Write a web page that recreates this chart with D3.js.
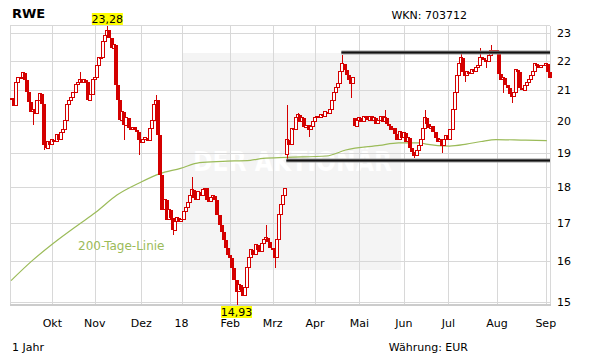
<!DOCTYPE html>
<html>
<head>
<meta charset="utf-8">
<script src="https://cdn.jsdelivr.net/npm/d3@7"></script>
<style>
  body { margin: 0; background: #fff; }
  svg { display: block; font-family: "DejaVu Sans", Verdana, sans-serif; }
</style>
</head>
<body>
<svg width="611" height="364"></svg>
<script>
// RWE daily closes (EUR), one year up to Sep 2018
const closes = [
  20.68, 20.49, 21.28, 21.42, 21.45, 21.59, 21.35, 20.94, 20.62, 20.29,
  20.36, 20.23, 20.68, 20.88, 20.55, 19.26, 19.16, 19.35, 19.26, 19.41,
  19.35, 19.57, 19.41, 19.63, 19.72, 20.03, 20.52, 20.68, 20.75, 20.94,
  21.18, 21.28, 21.35, 21.28, 21.35, 21.28, 20.68, 20.85, 21.35, 21.42,
  21.86, 22.11, 22.14, 22.68, 22.93, 23.11, 22.82, 22.46, 22.57, 21.18,
  20.68, 20.03, 20.29, 19.87, 20.10, 19.78, 19.72, 19.81, 19.72, 19.66,
  19.41, 19.32, 19.41, 19.47, 19.38, 19.78, 20.03, 20.52, 20.68, 19.57,
  18.36, 17.37, 17.65, 17.09, 17.37, 17.15, 16.82, 17.04, 17.15, 17.04,
  17.09, 17.31, 17.43, 17.56, 17.78, 17.93, 17.70, 17.65, 17.87, 17.76,
  17.93, 17.98, 17.65, 17.59, 17.70, 17.76, 17.65, 17.23, 16.96, 16.77,
  16.56, 16.35, 16.17, 16.09, 15.84, 15.54, 15.25, 15.42, 15.30, 15.15,
  15.34, 15.84, 16.09, 16.30, 16.17, 16.43, 16.30, 16.25, 16.46, 16.56,
  16.61, 16.51, 16.35, 16.30, 16.09, 16.56, 17.23, 17.51, 17.78, 17.98,
  19.41, 19.26, 19.78, 19.72, 20.10, 20.20, 19.97, 20.10, 19.81, 19.87,
  19.72, 19.84, 19.97, 20.10, 20.16, 20.10, 20.20, 20.16, 20.29, 20.23,
  20.36, 20.68, 20.94, 21.08, 21.22, 21.63, 21.90, 21.70, 21.52, 21.35,
  21.22, 21.42, 19.84, 20.03, 20.10, 19.97, 20.16, 20.10, 20.03, 20.16,
  20.03, 20.10, 19.91, 20.03, 20.16, 19.97, 20.10, 19.91, 19.84, 19.72,
  19.78, 19.60, 19.41, 19.66, 19.47, 19.63, 19.35, 19.47, 19.16, 19.04,
  18.92, 19.10, 19.23, 19.41, 19.78, 20.10, 19.91, 19.78, 19.84, 19.66,
  19.47, 19.35, 19.41, 19.23, 19.41, 19.54, 19.41, 19.72, 20.36, 20.94,
  21.49, 21.90, 22.11, 21.63, 21.49, 21.63, 21.56, 21.70, 21.63, 21.77,
  21.83, 22.14, 22.11, 22.04, 21.97, 22.21, 22.39, 22.32, 22.39, 22.32,
  21.56, 21.35, 21.42, 21.18, 21.08, 20.88, 20.78, 20.94, 21.70, 21.63,
  21.08, 21.01, 21.15, 21.28, 21.35, 21.49, 21.63, 21.90, 21.83, 21.77,
  21.86, 21.83, 21.90, 21.63, 21.42
];
const firstOpen = 20.75;
// days that did not open at the previous close: [day, open]
const gapOpens = [[130, 18.95], [162, 20.10]];
// visible wicks: [day, high, low]
const wicks = [
  [5, 21.62, null], [10, null, 19.87], [15, null, 19.10], [32, 21.62, null],
  [45, 23.28, null], [53, null, 19.41], [60, null, 18.95], [68, 20.85, null],
  [76, null, 16.70], [85, 18.30, null], [106, null, 14.93], [120, 16.95, null],
  [124, null, 15.84], [130, 20.52, 18.80], [135, 20.26, null], [140, null, 19.50],
  [156, 22.21, null], [160, null, 20.75], [176, 20.36, null], [190, null, 18.86],
  [195, 20.36, null], [203, null, 19.01], [212, 22.29, null], [214, null, 21.28],
  [221, 22.46, null], [224, null, 21.77], [226, 22.57, null], [232, null, 20.91],
  [236, null, 20.59]
];

// 200-Tage-Linie, read at these days
const ma200Days = [0, 10, 20, 31, 40, 50, 61, 70, 80, 89, 100, 113, 119, 130, 149, 158, 174, 183, 193, 196, 207, 215, 222, 229, 243, 253];
const ma200 = [15.52, 16.02, 16.47, 16.93, 17.30, 17.78, 18.14, 18.39, 18.55, 18.72, 18.76, 18.79, 18.85, 18.88, 18.92, 19.10, 19.24, 19.32, 19.32, 19.28, 19.22, 19.28, 19.36, 19.42, 19.40, 19.39];

// horizontal levels drawn in the chart: [start day, price]
const levels = [[156, 22.31], [130, 18.79]];

// first trading day of each month
const monthDays = [20, 40, 62, 81, 104, 124, 144, 165, 186, 207, 230, 253];
const monthLabels = ["Okt", "Nov", "Dez", "18", "Feb", "Mrz", "Apr", "Mai", "Jun", "Jul", "Aug", "Sep"];
const yTicks = [15, 16, 17, 18, 19, 20, 21, 22, 23];

const red = "#d40000";
const gridColor = "#d8d8d8";
const svg = d3.select("svg");
const plotLeft = 10, plotRight = 550, plotTop = 25.5, plotBottom = 305;

// build OHLC from closes
const candles = closes.map(function(c, i) {
  let o = i === 0 ? firstOpen : closes[i - 1];
  const g = gapOpens.find(function(d) { return d[0] === i; });
  if (g) o = g[1];
  let h = Math.max(o, c), l = Math.min(o, c);
  const w = wicks.find(function(d) { return d[0] === i; });
  if (w && w[1] != null) h = Math.max(h, w[1]);
  if (w && w[2] != null) l = Math.min(l, w[2]);
  return { i: i, o: o, c: c, h: h, l: l };
});

const x = d3.scaleLinear().domain([-0.5, closes.length - 0.5]).range([plotLeft, plotRight]);
const y = d3.scaleLog()
  .domain([d3.min(candles, d => d.l), d3.max(candles, d => d.h)])
  .range([plotBottom, plotTop]);

const fmt = function(v) { return d3.format(".2f")(v).replace(".", ","); };

// title and info texts
svg.append("text").attr("x", 12).attr("y", 17.5)
  .attr("font-size", 13).attr("font-weight", "bold").text("RWE");
svg.append("text").attr("x", 467).attr("y", 18.5).attr("text-anchor", "end")
  .attr("font-size", 11).text("WKN: 703712");
svg.append("text").attr("x", 12).attr("y", 351)
  .attr("font-size", 11).text("1 Jahr");
svg.append("text").attr("x", 468).attr("y", 351).attr("text-anchor", "end")
  .attr("font-size", 11).text("Währung: EUR");

// watermark box
svg.append("rect").attr("x", 183).attr("y", 53).attr("width", 218).attr("height", 217)
  .attr("fill", "#f4f4f4");
svg.append("text").attr("x", 193).attr("y", 171)
  .attr("font-size", 27).attr("font-weight", "bold").attr("fill", "#ffffff")
  .attr("textLength", 199).attr("lengthAdjust", "spacingAndGlyphs")
  .text("DER AKTIONÄR");

// grid
const grid = svg.append("g").attr("shape-rendering", "crispEdges").attr("stroke", gridColor);
grid.selectAll("line.h").data(yTicks).join("line")
  .attr("x1", plotLeft).attr("x2", plotRight)
  .attr("y1", d => Math.round(y(d)) + 0.5).attr("y2", d => Math.round(y(d)) + 0.5);
grid.selectAll("line.v").data(monthDays).join("line")
  .attr("y1", plotTop).attr("y2", plotBottom)
  .attr("x1", d => Math.round(x(d - 0.5)) + 0.5).attr("x2", d => Math.round(x(d - 0.5)) + 0.5);
// frame
grid.append("line").attr("x1", plotLeft).attr("x2", plotRight).attr("y1", 25.5).attr("y2", 25.5);
grid.append("line").attr("x1", plotLeft + 0.5).attr("x2", plotLeft + 0.5).attr("y1", plotTop).attr("y2", plotBottom);
grid.append("line").attr("x1", plotRight + 0.5).attr("x2", plotRight + 0.5).attr("y1", plotTop).attr("y2", plotBottom);
svg.append("line").attr("x1", plotLeft).attr("x2", plotRight + 1).attr("y1", 305).attr("y2", 305)
  .attr("stroke", "#cccccc").attr("stroke-width", 2).attr("shape-rendering", "crispEdges");

// axis labels
svg.selectAll("text.month").data(monthDays).join("text")
  .attr("class", "month")
  .attr("x", d => x(d - 0.5)).attr("y", 327)
  .attr("text-anchor", "middle").attr("font-size", 11)
  .text(function(d, i) { return monthLabels[i]; });
svg.selectAll("text.price").data(yTicks).join("text")
  .attr("class", "price")
  .attr("x", 557).attr("y", d => y(d)).attr("dy", "0.36em")
  .attr("font-size", 11)
  .text(d => d);

// 200 day line
const maLine = d3.line()
  .x(function(d, i) { return x(ma200Days[i]); })
  .y(function(d) { return y(d); })
  .curve(d3.curveMonotoneX);
svg.append("path").datum(ma200).attr("d", maLine)
  .attr("fill", "none").attr("stroke", "#9bbb59").attr("stroke-width", 1.2);
svg.append("text").attr("x", 78).attr("y", 249.5)
  .attr("font-size", 12).attr("fill", "#9bbb59").text("200-Tage-Linie");

// candles: hollow = up day, filled = down day
const cg = svg.append("g").attr("shape-rendering", "crispEdges");
const candle = cg.selectAll("g").data(candles).join("g");
function cx(d) { return Math.round(x(d.i)); }
function bodyTop(d) { return y(Math.max(d.o, d.c)); }
function bodyBot(d) { return Math.max(y(Math.min(d.o, d.c)), bodyTop(d) + 1); }
// upper and lower wick, kept outside the body so hollow candles stay white inside
candle.append("line")
  .attr("x1", d => cx(d) + 1.5).attr("x2", d => cx(d) + 1.5)
  .attr("y1", d => y(d.h)).attr("y2", d => bodyTop(d))
  .attr("stroke", red);
candle.append("line")
  .attr("x1", d => cx(d) + 1.5).attr("x2", d => cx(d) + 1.5)
  .attr("y1", d => bodyBot(d)).attr("y2", d => y(d.l))
  .attr("stroke", red);
candle.append("rect")
  .attr("x", function(d) { return d.c >= d.o ? cx(d) - 0.5 : cx(d) - 1; })
  .attr("y", d => bodyTop(d))
  .attr("width", function(d) { return d.c >= d.o ? 3 : 4; })
  .attr("height", d => bodyBot(d) - bodyTop(d))
  .attr("fill", function(d) { return d.c >= d.o ? "#fff" : red; })
  .attr("stroke", function(d) { return d.c >= d.o ? red : "none"; });

// support / resistance lines
levels.forEach(function(lv) {
  const yy = Math.round(y(lv[1])) + 0.5;
  svg.append("line").attr("x1", x(lv[0])).attr("x2", plotRight).attr("y1", yy).attr("y2", yy)
    .attr("stroke", "#999").attr("stroke-width", 4);
  svg.append("line").attr("x1", x(lv[0])).attr("x2", plotRight).attr("y1", yy).attr("y2", yy)
    .attr("stroke", "#111").attr("stroke-width", 2);
});

// high / low markers
const hi = d3.maxIndex(candles, d => d.h), lo = d3.minIndex(candles, d => d.l);
function marker(d, value, boxTop) {
  const wdt = 31;
  svg.append("rect")
    .attr("x", x(d.i) - wdt / 2 + 1).attr("y", boxTop).attr("width", wdt).attr("height", 12)
    .attr("fill", "#ffff00");
  svg.append("text").attr("x", x(d.i) + 1).attr("y", boxTop + 10)
    .attr("text-anchor", "middle").attr("font-size", 11).text(fmt(value));
}
marker(candles[hi], candles[hi].h, 13);
marker(candles[lo], candles[lo].l, 306);
</script>
</body>
</html>
